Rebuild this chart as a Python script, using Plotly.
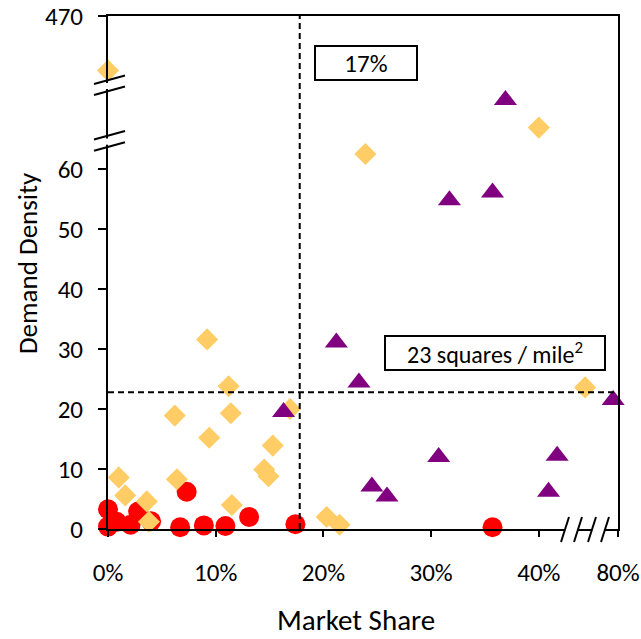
import plotly.graph_objects as go

# ---------------- data (display units of the broken axes) ----------------
# x: market share in %, the "80%" point sits at the broken-axis position 47.35
# y: demand density; the top "470" point sits at the broken-axis position 85.5
red_x = [0.0, 0.0, 0.8, 2.1, 2.8, 4.0, 7.3, 6.7, 8.9, 10.9, 13.1, 17.4, 35.7]
red_y = [3.3, 0.4, 1.2, 0.7, 2.9, 1.3, 6.2, 0.3, 0.6, 0.5, 2.0, 0.8, 0.3]

dia_x = [0.0, 9.2, 11.2, 11.4, 6.2, 9.4, 15.3, 14.5, 14.9, 1.0, 1.6, 6.4, 3.6, 3.8,
         11.5, 16.9, 20.3, 21.5, 23.9, 40.0, 44.3]
dia_y = [76.4, 31.6, 23.8, 19.3, 18.9, 15.2, 13.9, 9.9, 8.8, 8.6, 5.6, 8.3, 4.6, 1.2,
         4.0, 20.0, 2.0, 0.7, 62.5, 66.9, 23.6]

tri_x = [16.3, 21.2, 23.3, 30.7, 24.5, 25.9, 36.9, 35.7, 31.7, 46.9, 41.7, 40.9]
tri_y = [19.5, 31.1, 24.4, 12.0, 7.1, 5.4, 71.5, 56.1, 54.8, 21.5, 12.2, 6.2]

x_tick_vals = [0, 10, 20, 30, 40, 47.35]
x_tick_text = ["0%", "10%", "20%", "30%", "40%", "80%"]
y_tick_vals = [0, 10, 20, 30, 40, 50, 60, 85.5]
y_tick_text = ["0", "10", "20", "30", "40", "50", "60", "470"]

share_threshold = 17.8
density_threshold = 22.8

X_MAX = 47.35
Y_MAX = 85.5

FONT = "Carlito, Calibri, Lato, sans-serif"

# plot area in pixels
L, R, T, B = 108, 618, 16, 529
W, H = 641, 639


def px(x):
    return (x - L) / (R - L)


def py(y):
    return (B - y) / (B - T)


fig = go.Figure()
fig.add_trace(go.Scatter(x=red_x, y=red_y, mode="markers",
                         marker=dict(symbol="circle", size=20, color="#FF0000"),
                         showlegend=False, cliponaxis=False))
fig.add_trace(go.Scatter(x=dia_x, y=dia_y, mode="markers",
                         marker=dict(symbol="diamond", size=17, color="#FFCC66"),
                         showlegend=False, cliponaxis=False))
fig.add_trace(go.Scatter(x=tri_x, y=tri_y, mode="markers",
                         marker=dict(symbol="triangle-up", size=20, color="#800080"),
                         showlegend=False, cliponaxis=False))

# dashed threshold lines
fig.add_shape(type="line", x0=share_threshold, x1=share_threshold, y0=0, y1=Y_MAX,
              xref="x", yref="y", line=dict(color="black", width=2, dash="6px,4px"))
fig.add_shape(type="line", x0=0, x1=X_MAX - 0.4, y0=density_threshold, y1=density_threshold,
              xref="x", yref="y", line=dict(color="black", width=2, dash="6px,4px"))

# y-axis break marks (two pairs of slashes)
for (ya, yb) in [(84, 95), (139.5, 150.7)]:
    fig.add_shape(type="rect", x0=px(L - 4), x1=px(L + 4), y0=py(ya - 1), y1=py(yb - 6),
                  xref="paper", yref="paper", fillcolor="white", line=dict(width=0),
                  layer="above")
    for yy in (ya, yb):
        fig.add_shape(type="line", x0=px(94), x1=px(125), y0=py(yy), y1=py(yy - 8.5),
                      xref="paper", yref="paper", line=dict(color="black", width=2),
                      layer="above")

# x-axis break marks (two pairs of slashes)
for (xa, xb) in [(565, 578), (592, 605)]:
    fig.add_shape(type="rect", x0=px(xa), x1=px(xb), y0=py(B + 3), y1=py(B - 3),
                  xref="paper", yref="paper", fillcolor="white", line=dict(width=0),
                  layer="above")
    for xx in (xa, xb):
        fig.add_shape(type="line", x0=px(xx - 4), x1=px(xx + 4), y0=py(B + 13), y1=py(B - 12),
                      xref="paper", yref="paper", line=dict(color="black", width=2),
                      layer="above")

# boxed labels
fig.add_annotation(x=px(365.5), y=py(63), xref="paper", yref="paper",
                   xanchor="center", yanchor="middle",
                   text="17%", showarrow=False, width=98, height=30,
                   bordercolor="black", borderwidth=2, bgcolor="white",
                   font=dict(family=FONT, size=25, color="black"))
fig.add_annotation(x=px(495), y=py(353), xref="paper", yref="paper",
                   xanchor="center", yanchor="middle",
                   text="23 squares / mile<sup>2</sup>", showarrow=False, width=216, height=30,
                   bordercolor="black", borderwidth=2, bgcolor="white",
                   font=dict(family=FONT, size=24, color="black"))

# axis titles
fig.add_annotation(x=px(356), y=py(620), xref="paper", yref="paper",
                   xanchor="center", yanchor="middle",
                   text="Market Share", showarrow=False, borderpad=0,
                   font=dict(family=FONT, size=29, color="black"))
fig.add_annotation(x=px(27), y=py(263), xref="paper", yref="paper",
                   xanchor="center", yanchor="middle",
                   text="Demand Density", showarrow=False, textangle=-90,
                   font=dict(family=FONT, size=27, color="black"))

fig.update_layout(
    width=W, height=H,
    margin=dict(l=L, r=W - R, t=T, b=H - B, pad=0, autoexpand=False),
    paper_bgcolor="white", plot_bgcolor="white",
    font=dict(family=FONT, size=25, color="black"),
    xaxis=dict(range=[0, X_MAX], tickvals=x_tick_vals, ticktext=x_tick_text,
               automargin=False, ticklabelstandoff=14,
               showgrid=False, zeroline=False, showline=True, linecolor="black",
               linewidth=2, mirror=True, ticks="outside", ticklen=6, tickwidth=2,
               tickcolor="black", tickfont=dict(family=FONT, size=25)),
    yaxis=dict(range=[0, Y_MAX], tickvals=y_tick_vals, ticktext=y_tick_text,
               automargin=False, ticklabelstandoff=10,
               showgrid=False, zeroline=False, showline=True, linecolor="black",
               linewidth=2, mirror=True, ticks="outside", ticklen=8, tickwidth=2,
               tickcolor="black", tickfont=dict(family=FONT, size=25)),
)

fig.write_html("out.html")
